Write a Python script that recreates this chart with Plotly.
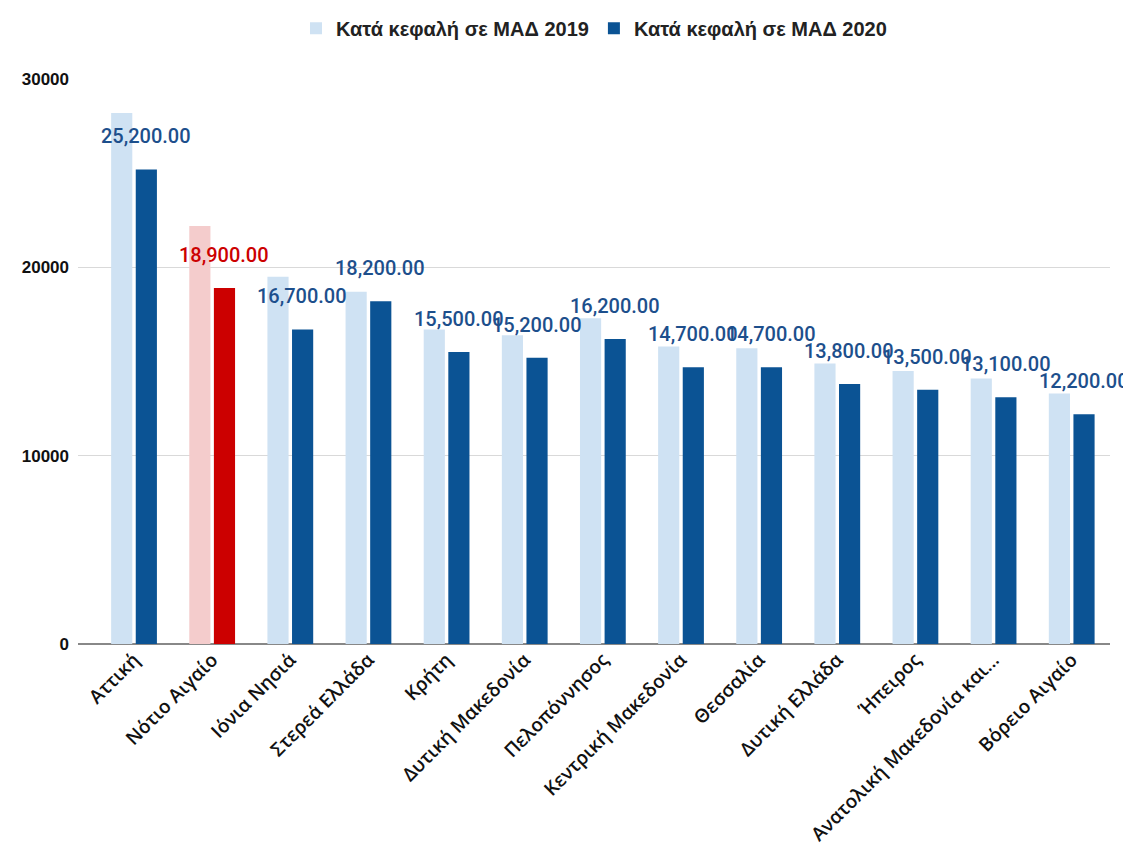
import plotly.graph_objects as go

regions = ["Αττική", "Νότιο Αιγαίο", "Ιόνια Νησιά", "Στερεά Ελλάδα", "Κρήτη",
           "Δυτική Μακεδονία", "Πελοπόννησος", "Κεντρική Μακεδονία", "Θεσσαλία",
           "Δυτική Ελλάδα", "Ήπειρος", "Ανατολική Μακεδονία και...", "Βόρειο Αιγαίο"]
values_2019 = [28200, 22200, 19500, 18700, 16700, 16400, 17300, 15800, 15700, 14900, 14500, 14100, 13300]
values_2020 = [25200, 18900, 16700, 18200, 15500, 15200, 16200, 14700, 14700, 13800, 13500, 13100, 12200]
highlight = "Νότιο Αιγαίο"

name_2019 = "Κατά κεφαλή σε ΜΑΔ 2019"
name_2020 = "Κατά κεφαλή σε ΜΑΔ 2020"

LIGHT, DARK = "#cfe2f3", "#0b5394"
LIGHT_HL, DARK_HL = "#f4cccc", "#cc0000"
LABEL, LABEL_HL = "#1d4f8c", "#cc0000"

c19 = [LIGHT_HL if r == highlight else LIGHT for r in regions]
c20 = [DARK_HL if r == highlight else DARK for r in regions]

fig = go.Figure()
fig.add_trace(go.Bar(x=regions, y=values_2019, name=name_2019, marker=dict(color=c19, line_width=0)))
fig.add_trace(go.Bar(x=regions, y=values_2020, name=name_2020, marker=dict(color=c20, line_width=0)))

for r, v in zip(regions, values_2020):
    fig.add_annotation(x=r, y=v, text=f"{v:,.2f}", showarrow=False, xshift=12, yshift=33,
                       font=dict(family="Roboto", size=20, color=LABEL_HL if r == highlight else LABEL, weight=500))

fig.update_layout(
    width=1131, height=853,
    margin=dict(l=70, r=29, t=71, b=217, autoexpand=False),
    paper_bgcolor="white", plot_bgcolor="white",
    barmode="group", bargap=0.37, bargroupgap=0.14,
    legend=dict(orientation="h", x=0.5, xanchor="center", y=1.09, yanchor="middle",
                font=dict(family="Liberation Sans", size=20, color="#222222", weight="bold"),
                itemwidth=30, traceorder="normal"),
    xaxis=dict(tickangle=-45, tickfont=dict(family="Open Sans", size=19, color="#111111", weight=600),
               showline=False, ticks="", range=[-0.717, 12.49]),
    yaxis=dict(range=[0, 30000], tickvals=[0, 10000, 20000, 30000], tickformat="d",
               showgrid=True, gridcolor="#d9d9d9", gridwidth=1,
               zeroline=True, zerolinecolor="#888888", zerolinewidth=1.5,
               tickfont=dict(family="Liberation Sans", size=17, color="#111111", weight="bold"),
               ticklabelstandoff=8),
)

fig.write_html("out.html")
